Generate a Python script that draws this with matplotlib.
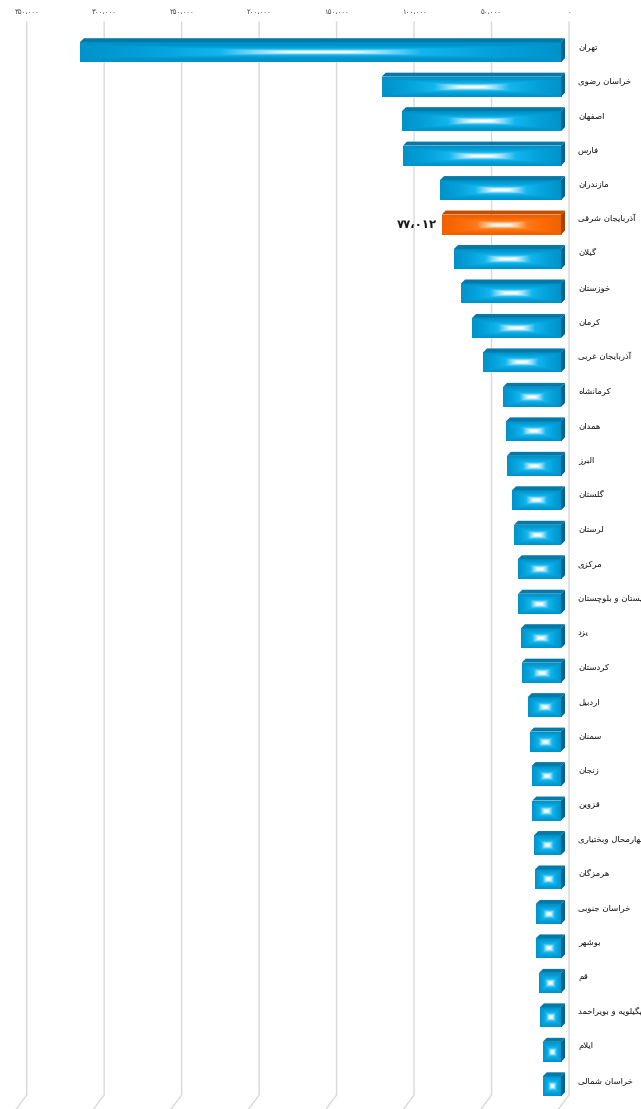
import numpy as np
import matplotlib
matplotlib.use("Agg")
import matplotlib.pyplot as plt
from matplotlib.patches import Polygon
from matplotlib.colors import LinearSegmentedColormap

# ── data ─────────────────────────────────────────────────────────────────────
provinces = [
    "تهران", "خراسان رضوی", "اصفهان", "فارس", "مازندران", "آذربایجان شرقی",
    "گیلان", "خوزستان", "کرمان", "آذربایجان غربی", "کرمانشاه", "همدان",
    "البرز", "گلستان", "لرستان", "مرکزی", "سیستان و بلوچستان", "یزد",
    "کردستان", "اردبیل", "سمنان", "زنجان", "قزوین", "چهارمحال وبختیاری",
    "هرمزگان", "خراسان جنوبی", "بوشهر", "قم", "کهگیلویه و بویراحمد",
    "ایلام", "خراسان شمالی",
]
values = [
    310500, 115700, 102600, 102000, 78100, 77012,
    69100, 64500, 57400, 50300, 37400, 35500,
    34900, 31600, 30300, 27900, 27600, 25800,
    25400, 21500, 20000, 19000, 18500, 17200,
    16800, 16300, 16300, 14200, 13600,
    11800, 11800,
]
highlight = "آذربایجان شرقی"
x_ticks = [0, 50000, 100000, 150000, 200000, 250000, 300000, 350000]

# ── persian text helpers (matplotlib does no arabic shaping) ─────────────────
FORMS = {
    "ا": (0xFE8D, 0xFE8E, None, None), "آ": (0xFE81, 0xFE82, None, None),
    "ب": (0xFE8F, 0xFE90, 0xFE91, 0xFE92), "پ": (0xFB56, 0xFB57, 0xFB58, 0xFB59),
    "ت": (0xFE95, 0xFE96, 0xFE97, 0xFE98), "ث": (0xFE99, 0xFE9A, 0xFE9B, 0xFE9C),
    "ج": (0xFE9D, 0xFE9E, 0xFE9F, 0xFEA0), "چ": (0xFB7A, 0xFB7B, 0xFB7C, 0xFB7D),
    "ح": (0xFEA1, 0xFEA2, 0xFEA3, 0xFEA4), "خ": (0xFEA5, 0xFEA6, 0xFEA7, 0xFEA8),
    "د": (0xFEA9, 0xFEAA, None, None), "ذ": (0xFEAB, 0xFEAC, None, None),
    "ر": (0xFEAD, 0xFEAE, None, None), "ز": (0xFEAF, 0xFEB0, None, None),
    "ژ": (0xFB8A, 0xFB8B, None, None), "و": (0xFEED, 0xFEEE, None, None),
    "س": (0xFEB1, 0xFEB2, 0xFEB3, 0xFEB4), "ش": (0xFEB5, 0xFEB6, 0xFEB7, 0xFEB8),
    "ص": (0xFEB9, 0xFEBA, 0xFEBB, 0xFEBC), "ض": (0xFEBD, 0xFEBE, 0xFEBF, 0xFEC0),
    "ط": (0xFEC1, 0xFEC2, 0xFEC3, 0xFEC4), "ظ": (0xFEC5, 0xFEC6, 0xFEC7, 0xFEC8),
    "ع": (0xFEC9, 0xFECA, 0xFECB, 0xFECC), "غ": (0xFECD, 0xFECE, 0xFECF, 0xFED0),
    "ف": (0xFED1, 0xFED2, 0xFED3, 0xFED4), "ق": (0xFED5, 0xFED6, 0xFED7, 0xFED8),
    "ک": (0xFB8E, 0xFB8F, 0xFB90, 0xFB91), "گ": (0xFB92, 0xFB93, 0xFB94, 0xFB95),
    "ل": (0xFEDD, 0xFEDE, 0xFEDF, 0xFEE0), "م": (0xFEE1, 0xFEE2, 0xFEE3, 0xFEE4),
    "ن": (0xFEE5, 0xFEE6, 0xFEE7, 0xFEE8), "ه": (0xFEE9, 0xFEEA, 0xFEEB, 0xFEEC),
    "ی": (0xFBFC, 0xFBFD, 0xFBFE, 0xFBFF),
}
LAM_ALEF = {"ا": (0xFEFB, 0xFEFC), "آ": (0xFEF5, 0xFEF6)}


def joins_next(c):
    return c in FORMS and FORMS[c][2] is not None


def shape(text):
    out, i, n = [], 0, len(text)
    while i < n:
        c = text[i]
        if c not in FORMS:
            out.append(c)
            i += 1
            continue
        conn_prev = i > 0 and joins_next(text[i - 1])
        if c == "ل" and i + 1 < n and text[i + 1] in LAM_ALEF:
            iso, fin = LAM_ALEF[text[i + 1]]
            out.append(chr(fin if conn_prev else iso))
            i += 2
            continue
        conn_next = joins_next(c) and i + 1 < n and text[i + 1] in FORMS
        iso, fin, ini, med = FORMS[c]
        if conn_prev and conn_next:
            g = med
        elif conn_prev:
            g = fin
        elif conn_next:
            g = ini
        else:
            g = iso
        out.append(chr(g))
        i += 1
    return "".join(reversed(out))


def fa_num(v):
    s = f"{int(v):,}"
    return s.translate(str.maketrans("0123456789,", "۰۱۲۳۴۵۶۷۸۹،"))


# ── layout (pixels) ──────────────────────────────────────────────────────────
W, H = 641, 1109
AX_L, AX_R = 18.7, 561.0
AX_T, AX_B = 22.0, 1095.0
ROW = 34.47
FIRST = 52.2
XMAX = 350000
BAR_H = 0.58
DEPTH = 4        # bar depth in px
WALL = 8         # back wall offset in px

fig = plt.figure(figsize=(W / 100, H / 100), dpi=100)
ax = fig.add_axes([AX_L / W, 1 - AX_B / H, (AX_R - AX_L) / W, (AX_B - AX_T) / H])
y_top = -(FIRST - AX_T) / ROW
y_bot = (len(values) - 1) + (AX_B - (FIRST + (len(values) - 1) * ROW)) / ROW
ax.set_xlim(XMAX, 0)
ax.set_ylim(y_bot, y_top)

ux = XMAX / (AX_R - AX_L)   # data units per px (x)
uy = 1 / ROW                # data units per px (y)

# back wall gridlines + floor slant
for v in x_ticks:
    xb = v - WALL * ux
    ax.plot([xb, xb, xb + 12 * ux], [y_top, y_bot, y_bot + 16 * uy],
            color="#d9d9d9", lw=1.0, zorder=0, clip_on=False)

blue = LinearSegmentedColormap.from_list("b", [
    (0.0, "#ffffff"), (0.12, "#f2fbff"), (0.26, "#8fdcf8"), (0.42, "#12b6ee"),
    (0.7, "#05a2db"), (1.0, "#0093ca")])
orange = LinearSegmentedColormap.from_list("o", [
    (0.0, "#ffffff"), (0.12, "#fff6ee"), (0.26, "#ffc08c"), (0.42, "#ff7a1a"),
    (0.7, "#fb6a05"), (1.0, "#ef6100")])

ypos = np.arange(len(values))
colors = ["#f26b0c" if p == highlight else "#05a2db" for p in provinces]
bars = ax.barh(ypos, values, height=BAR_H, left=0, color=colors, zorder=2)

gu = np.linspace(-1, 1, 240)
gv = np.linspace(-1, 1, 40)
U, V = np.meshgrid(gu, gv)

for bar, p, v in zip(bars, provinces, values):
    hot = p == highlight
    cmap = orange if hot else blue
    y0 = bar.get_y()
    y1 = y0 + bar.get_height()
    # long bars get a thinner vertical core, like the reference glow
    wpx = v / ux
    vs = 1.0 + 0.45 * min(wpx / 480, 1)
    T = np.maximum(np.abs(U), np.abs(V) * vs).clip(0, 1)
    im = ax.imshow(cmap(T), extent=(v, 0, y1, y0), aspect="auto",
                   interpolation="bilinear", zorder=3)
    im.set_clip_path(bar)
    dx, dy = -DEPTH * ux, -DEPTH * uy
    top = Polygon([(v, y0), (0, y0), (dx, y0 + dy), (v + dx, y0 + dy)],
                  closed=True, fc="#c24e00" if hot else "#0579a8",
                  ec="none", zorder=3, clip_on=False)
    side = Polygon([(0, y0), (dx, y0 + dy), (dx, y1 + dy), (0, y1)],
                   closed=True, fc="#a94300" if hot else "#00668f",
                   ec="none", zorder=3, clip_on=False)
    ax.add_patch(top)
    ax.add_patch(side)
    ax.annotate(shape(p), xy=(578 / W, bar.get_y() + BAR_H / 2),
                xycoords=("figure fraction", "data"),
                xytext=(0, 4.3), textcoords="offset points",
                ha="left", va="center", fontsize=6.1, color="#111111",
                family="DejaVu Sans", annotation_clip=False)
    if hot:
        ax.annotate(fa_num(v), xy=(v, bar.get_y() + BAR_H / 2),
                    xytext=(-3.5, 0), textcoords="offset points",
                    ha="right", va="center", fontsize=8.5, fontweight="bold",
                    color="#1a1a1a", family="DejaVu Sans")

# tick labels on top, shifted onto the back wall
for v in x_ticks:
    ax.annotate(fa_num(v), xy=(v - WALL * ux, 1), xycoords=("data", "axes fraction"),
                xytext=(0, 7), textcoords="offset points",
                ha="center", va="center", fontsize=5, color="#404040",
                family="DejaVu Sans", annotation_clip=False)

ax.set_xticks([])
ax.set_yticks([])
for s in ax.spines.values():
    s.set_visible(False)
ax.patch.set_alpha(0)

fig.savefig("out.png", dpi=100)
